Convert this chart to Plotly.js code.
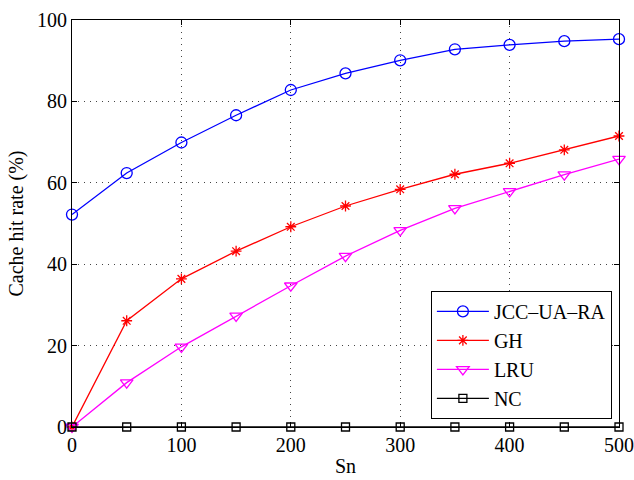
<!DOCTYPE html>
<html><head><meta charset="utf-8">
<script src="https://cdn.plot.ly/plotly-3.0.1.min.js"></script>
<style>body{margin:0;background:#fff}#c{width:634px;height:480px}</style>
</head><body><div id="c"></div>
<script>
const sn = [0, 50, 100, 150, 200, 250, 300, 350, 400, 450, 500];
const jcc = [52.2, 62.4, 69.9, 76.6, 82.8, 86.9, 90.1, 92.8, 93.9, 94.8, 95.3];
const gh = [0, 26.1, 36.4, 43.2, 49.2, 54.3, 58.4, 62.1, 64.8, 68.1, 71.5];
const lru = [0, 10.9, 19.7, 27.3, 34.7, 42.0, 48.3, 53.7, 57.9, 62.0, 65.8];
const nc = [0, 0, 0, 0, 0, 0, 0, 0, 0, 0, 0];
const names = ['JCC\u2013UA\u2013RA', 'GH', 'LRU', 'NC'];

const FAM = "'Liberation Serif', 'DejaVu Serif', serif";
const font = {family: FAM, color: '#000'};
function tr(y, name, color, symbol, size) {
  return {x: sn, y: y, name: name, type: 'scatter', mode: 'lines+markers', cliponaxis: false,
    line: {color: color, width: 1.3},
    marker: {symbol: symbol, size: size, color: color, line: {color: color, width: 1.3}}};
}
const data = [
  tr(jcc, names[0], '#0000ff', 'circle-open', 11),
  tr(gh, names[1], '#ff0000', 'asterisk-open', 9),
  tr(lru, names[2], '#ff00ff', 'triangle-down-open', 11),
  tr(nc, names[3], '#000000', 'square-open', 8)
];
const axisCommon = {
  showline: true, mirror: 'allticks', linecolor: '#000', linewidth: 1,
  ticks: 'inside', ticklen: 5, tickcolor: '#000',
  showgrid: true, gridcolor: '#444', griddash: '1px,5px', gridwidth: 1,
  zeroline: false, tickfont: {family: FAM, size: 20, color: '#000'}
};
const layout = {
  width: 634, height: 480,
  margin: {l: 72, r: 15, t: 20, b: 53},
  paper_bgcolor: '#fff', plot_bgcolor: '#fff',
  font: font,
  showlegend: true,
  xaxis: Object.assign({}, axisCommon, {range: [0, 500], tickvals: [0,100,200,300,400,500], ticktext: ['0','100','200','300','400','500'],
    title: {text: 'Sn', font: {family: FAM, size: 20, color: '#000'}, standoff: 3}}),
  yaxis: Object.assign({}, axisCommon, {range: [0, 100], tickvals: [0,20,40,60,80,100], ticktext: ['0','20','40','60','80','100'],
    title: {text: 'Cache hit rate (%)', font: {family: FAM, size: 20, color: '#000'}, standoff: 8}}),
  legend: {x: 0.987, y: 0.02, xanchor: 'right', yanchor: 'bottom',
    bgcolor: '#fff', bordercolor: '#000', borderwidth: 1,
    font: {family: FAM, size: 20, color: '#000'}, itemwidth: 52, tracegroupgap: 0}
};
Plotly.newPlot('c', data, layout, {displayModeBar: false, staticPlot: true});
</script>
</body></html>
